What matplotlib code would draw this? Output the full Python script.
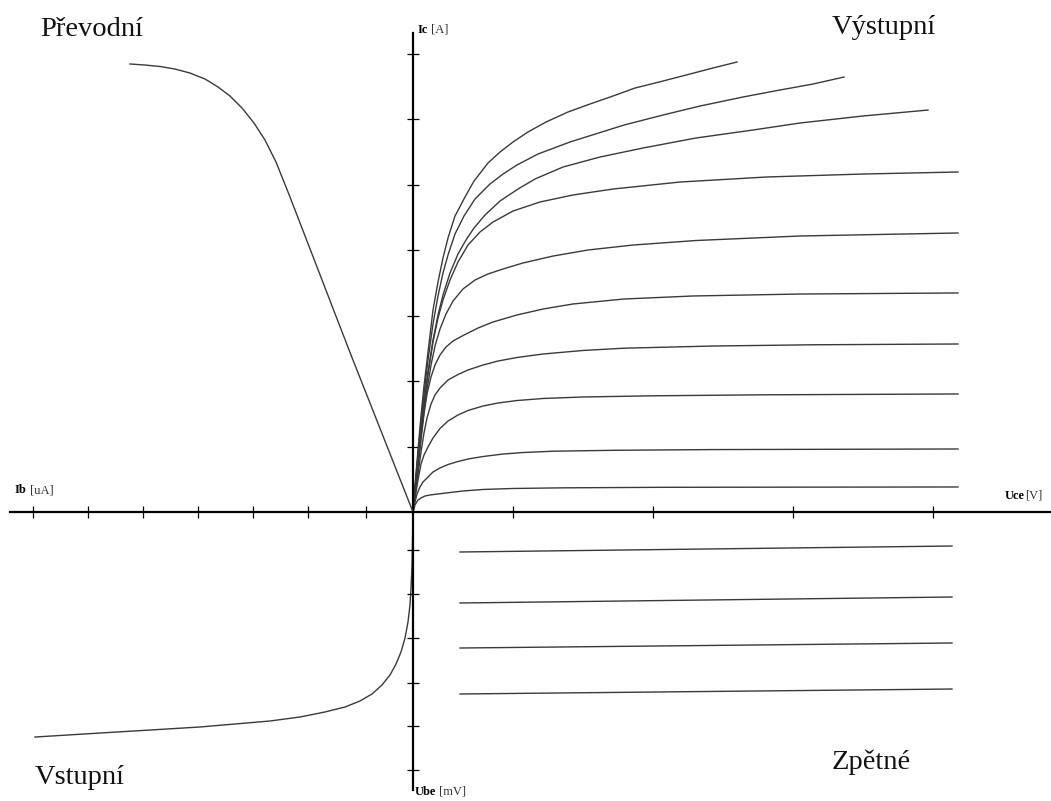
import matplotlib.pyplot as plt

plt.rcParams['font.family'] = ['Liberation Serif', 'DejaVu Serif']

# --- Vystupni (output) characteristics: Uce [V] vs Ic [A], one list per curve ---
out_uce = [
    [0, 0.02, 0.05, 0.08, 0.12, 0.17, 0.25, 0.33, 0.5, 0.7, 1.0, 1.5, 2.5, 5.45],
    [0, 0.02, 0.04, 0.07, 0.1, 0.15, 0.2, 0.27, 0.35, 0.45, 0.55, 0.7, 0.9, 1.1, 1.4, 2.0, 3.0, 5.45],
    [0, 0.02, 0.05, 0.08, 0.11, 0.15, 0.2, 0.27, 0.35, 0.45, 0.55, 0.7, 0.85, 1.04, 1.3, 1.7,
     2.4, 3.5, 5.45],
    [0, 0.02, 0.05, 0.08, 0.11, 0.14, 0.18, 0.22, 0.27, 0.35, 0.45, 0.55, 0.7, 0.85, 1.04, 1.3,
     1.7, 2.11, 3.0, 4.0, 5.45],
    [0, 0.02, 0.05, 0.08, 0.11, 0.14, 0.18, 0.22, 0.27, 0.33, 0.4, 0.51, 0.65, 0.8, 1.04, 1.3,
     1.6, 2.11, 2.8, 3.87, 5.45],
    [0, 0.02, 0.05, 0.08, 0.11, 0.14, 0.18, 0.22, 0.27, 0.33, 0.4, 0.5, 0.62, 0.75, 0.9, 1.1,
     1.4, 1.75, 2.2, 2.83, 3.87, 5.45],
    [0, 0.02, 0.05, 0.08, 0.11, 0.15, 0.2, 0.25, 0.3, 0.37, 0.45, 0.55, 0.67, 0.8, 1.0, 1.27,
     1.6, 2.0, 2.67, 3.54, 4.5, 5.45],
    [0, 0.02, 0.05, 0.08, 0.11, 0.15, 0.2, 0.25, 0.3, 0.37, 0.45, 0.53, 0.61, 0.72, 0.87, 1.05,
     1.22, 1.5, 1.87, 2.3, 2.83, 3.4, 3.87, 4.5, 5.15],
    [0, 0.02, 0.05, 0.08, 0.11, 0.15, 0.2, 0.25, 0.3, 0.35, 0.42, 0.51, 0.62, 0.77, 0.9, 1.04,
     1.25, 1.57, 2.11, 2.5, 2.87, 3.3, 3.67, 4.0, 4.31],
    [0, 0.02, 0.05, 0.08, 0.11, 0.15, 0.2, 0.25, 0.3, 0.35, 0.42, 0.52, 0.61, 0.75, 0.87, 1.0,
     1.15, 1.33, 1.55, 1.77, 2.0, 2.22, 2.5, 2.77, 3.0, 3.24],
]
out_ic = [
    [0, 0.107, 0.183, 0.214, 0.244, 0.260, 0.275, 0.290, 0.321, 0.344, 0.359, 0.369, 0.377, 0.382],
    [0, 0.153, 0.275, 0.382, 0.458, 0.534, 0.611, 0.672, 0.725, 0.771, 0.809, 0.847, 0.885, 0.908,
     0.928, 0.942, 0.953, 0.962],
    [0, 0.214, 0.489, 0.733, 0.870, 0.992, 1.130, 1.275, 1.389, 1.481, 1.550, 1.618, 1.664, 1.702,
     1.733, 1.756, 1.774, 1.789, 1.802],
    [0, 0.244, 0.580, 0.916, 1.206, 1.435, 1.649, 1.786, 1.893, 2.015, 2.099, 2.168, 2.244, 2.305,
     2.359, 2.412, 2.466, 2.501, 2.534, 2.553, 2.565],
    [0, 0.275, 0.672, 1.099, 1.496, 1.802, 2.061, 2.244, 2.397, 2.519, 2.611, 2.702, 2.809, 2.901,
     3.008, 3.099, 3.176, 3.252, 3.298, 3.328, 3.344],
    [0, 0.305, 0.748, 1.160, 1.542, 1.863, 2.244, 2.534, 2.794, 3.023, 3.221, 3.405, 3.542, 3.634,
     3.710, 3.802, 3.908, 4.0, 4.076, 4.145, 4.214, 4.260],
    [0, 0.336, 0.824, 1.252, 1.649, 2.107, 2.595, 2.962, 3.237, 3.542, 3.817, 4.076, 4.275, 4.427,
     4.595, 4.733, 4.840, 4.931, 5.038, 5.115, 5.160, 5.191],
    [0, 0.351, 0.840, 1.282, 1.679, 2.137, 2.626, 3.008, 3.313, 3.649, 3.939, 4.153, 4.336, 4.534,
     4.748, 4.931, 5.084, 5.267, 5.420, 5.557, 5.710, 5.832, 5.939, 6.046, 6.137],
    [0, 0.366, 0.885, 1.374, 1.802, 2.321, 2.870, 3.298, 3.649, 3.924, 4.244, 4.519, 4.779, 5.008,
     5.160, 5.298, 5.466, 5.649, 5.908, 6.061, 6.198, 6.336, 6.443, 6.534, 6.641],
    [0, 0.397, 0.947, 1.466, 1.924, 2.443, 3.084, 3.511, 3.878, 4.183, 4.519, 4.809, 5.053, 5.328,
     5.496, 5.649, 5.802, 5.954, 6.107, 6.229, 6.351, 6.473, 6.580, 6.687, 6.779, 6.870],
]

# --- Prevodni (transfer): Ib [uA] vs Ic [A] ---
tr_ib = [5.145, 4.873, 4.6, 4.327, 4.055, 3.782, 3.545, 3.327, 3.109, 2.891, 2.691, 2.491,
         2.236, 1.145, 0]
tr_ic = [6.840, 6.824, 6.802, 6.763, 6.702, 6.611, 6.489, 6.351, 6.168, 5.939, 5.679, 5.344,
         4.809, 2.435, 0]

# --- Vstupni (input): Ib [uA] vs Ube [mV] ---
in_ib = [0, 0.009, 0.018, 0.036, 0.055, 0.091, 0.145, 0.218, 0.309, 0.418, 0.564, 0.745,
         0.964, 1.236, 1.6, 2.055, 2.6, 3.236, 3.873, 4.782, 5.691, 6.873]
in_ube = [0, 0.636, 1.205, 1.727, 2.114, 2.5, 2.864, 3.182, 3.455, 3.705, 3.932, 4.136,
          4.295, 4.432, 4.545, 4.659, 4.75, 4.818, 4.886, 4.955, 5.023, 5.114]

# --- Zpetne (feedback): Uce [V] vs Ube [mV] ---
fb_uce = [0.47, 5.39]
fb_ube = [
    [0.909, 0.773],
    [2.068, 1.932],
    [3.091, 2.977],
    [4.136, 4.023],
]

# tick positions on each half-axis
uce_ticks = [1.0, 2.4, 3.8, 5.2]
ic_ticks = [1, 2, 3, 4, 5, 6, 7]
ib_ticks = [0.85, 1.9, 2.9, 3.9, 4.9, 5.9, 6.9]
ube_ticks = [0.86, 1.86, 2.86, 3.89, 4.86, 5.86]

W, H = 1051, 801
fig = plt.figure(figsize=(W / 100, H / 100), dpi=100)
ox, oy = 413 / W, 289 / H

ax_ur = fig.add_axes([ox, oy, 1 - ox, 1 - oy])
ax_ul = fig.add_axes([0, oy, ox, 1 - oy])
ax_ll = fig.add_axes([0, 0, ox, oy])
ax_lr = fig.add_axes([ox, 0, 1 - ox, oy])

uce_max, ic_max, ib_max, ube_max = 6.38, 7.817, 7.509, 6.568
ax_ur.set_xlim(0, uce_max); ax_ur.set_ylim(0, ic_max)
ax_ul.set_xlim(ib_max, 0); ax_ul.set_ylim(0, ic_max)
ax_ll.set_xlim(ib_max, 0); ax_ll.set_ylim(ube_max, 0)
ax_lr.set_xlim(0, uce_max); ax_lr.set_ylim(ube_max, 0)

line_kw = dict(color='#3a3a3a', lw=1.0, solid_joinstyle='round')

for xs, ys in zip(out_uce, out_ic):
    ax_ur.plot(xs, ys, **line_kw)
ax_ul.plot(tr_ib, tr_ic, **line_kw)
ax_ll.plot(in_ib, in_ube, **line_kw)
for ys in fb_ube:
    ax_lr.plot(fb_uce, ys, **line_kw)

# hide everything, then keep only the spines that form the cross
for ax in (ax_ur, ax_ul, ax_ll, ax_lr):
    ax.patch.set_visible(False)
    for s in ax.spines.values():
        s.set_visible(False)
    ax.set_xticks([])
    ax.set_yticks([])

tick_kw = dict(direction='inout', length=9, width=0.9, color='black')

ax_ur.spines['left'].set_visible(True)
ax_ur.spines['left'].set_bounds(0, 7.31)
ax_ur.spines['bottom'].set_visible(True)
ax_ur.set_xticks(uce_ticks)
ax_ur.set_yticks(ic_ticks)
ax_ur.tick_params(labelbottom=False, labelleft=False, **tick_kw)

ax_ul.spines['bottom'].set_visible(True)
ax_ul.spines['bottom'].set_bounds(0, 7.33)
ax_ul.set_xticks(ib_ticks)
ax_ul.tick_params(labelbottom=False, **tick_kw)

ax_lr.spines['left'].set_visible(True)
ax_lr.spines['left'].set_bounds(0, 6.32)
ax_lr.set_yticks(ube_ticks)
ax_lr.tick_params(labelleft=False, **tick_kw)

for ax, side in ((ax_ur, 'left'), (ax_ur, 'bottom'), (ax_ul, 'bottom'), (ax_lr, 'left')):
    ax.spines[side].set_linewidth(1.6)
    ax.spines[side].set_color('black')

# quadrant titles
title_kw = dict(fontsize=20.5, va='center', ha='left', color='#111111')
fig.text(40 / W, 1 - 30 / H, 'Převodní', **title_kw)
fig.text(832 / W, 1 - 27 / H, 'Výstupní', **title_kw)
fig.text(35 / W, 1 - 777 / H, 'Vstupní', **title_kw)
fig.text(832 / W, 1 - 762 / H, 'Zpětné', **title_kw)


# axis names: bold symbol followed by unit
def axis_name(x, y, sym, unit):
    t = fig.text(x / W, 1 - y / H, sym, fontsize=9, fontweight='bold', va='center', ha='left')
    ax_ur.annotate(unit, xy=(1, 0.5), xycoords=t, fontsize=9, va='center', ha='left',
                   color='#333333', annotation_clip=False)


axis_name(418, 30, 'Ic', ' [A]')
axis_name(15, 490, 'Ib', ' [uA]')
axis_name(1005, 496, 'Uce', '[V]')
axis_name(415, 792, 'Ube', ' [mV]')

fig.savefig('out.png', dpi=100)
